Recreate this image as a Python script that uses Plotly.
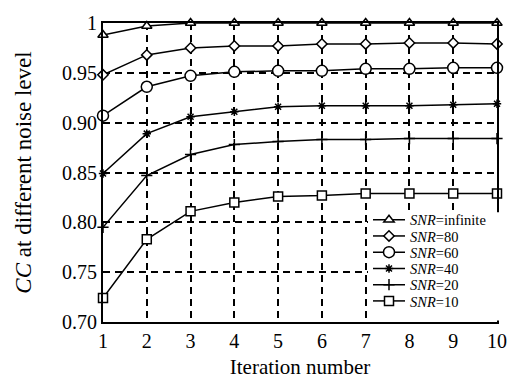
import plotly.graph_objects as go

iterations = [1, 2, 3, 4, 5, 6, 7, 8, 9, 10]
snr_inf = [0.988, 0.997, 1.0, 1.0, 1.0, 1.0, 1.0, 1.0, 1.0, 1.0]
snr_80 = [0.948, 0.968, 0.975, 0.977, 0.977, 0.979, 0.979, 0.980, 0.980, 0.979]
snr_60 = [0.907, 0.936, 0.947, 0.951, 0.952, 0.952, 0.954, 0.954, 0.955, 0.955]
snr_40 = [0.849, 0.889, 0.906, 0.911, 0.916, 0.917, 0.917, 0.917, 0.918, 0.919]
snr_20 = [0.795, 0.847, 0.868, 0.878, 0.881, 0.883, 0.883, 0.884, 0.884, 0.884]
snr_10 = [0.724, 0.783, 0.811, 0.820, 0.826, 0.827, 0.829, 0.829, 0.829, 0.829]

y_tickvals = [0.70, 0.75, 0.80, 0.85, 0.90, 0.95, 1.0]
y_ticktext = ["0.70", "0.75", "0.80", "0.85", "0.90", "0.95", "1"]

series = [
    ("<i>SNR</i>=infinite", snr_inf, "triangle-up", 9, "white"),
    ("<i>SNR</i>=80", snr_80, "diamond", 8, "white"),
    ("<i>SNR</i>=60", snr_60, "circle", 11, "white"),
    ("<i>SNR</i>=40", snr_40, "asterisk-open", 7, "black"),
    ("<i>SNR</i>=20", snr_20, "cross-thin-open", 8, "black"),
    ("<i>SNR</i>=10", snr_10, "square", 9, "white"),
]

font = "Liberation Serif"

# plot-area geometry (pixels) used to place the legend rows
W, H = 519, 387
L, R, T, B = 103, 22, 13, 61
plot_h = H - T - B
plot_w = W - L - R
legend_row_px = [219, 236, 253, 270, 287, 304]

fig = go.Figure()
layout_legends = {}
for i, (name, vals, sym, size, fill) in enumerate(series):
    key = "legend" if i == 0 else f"legend{i+1}"
    fig.add_trace(go.Scatter(
        x=iterations, y=vals, name=name, mode="lines+markers",
        line=dict(color="black", width=1.5),
        marker=dict(symbol=sym, size=size, color=fill,
                    line=dict(color="black", width=1.5)),
        cliponaxis=False,
        legend=key,
    ))
    layout_legends[key] = dict(
        x=(368 - L) / plot_w, xanchor="left",
        y=(H - B - legend_row_px[i]) / plot_h, yanchor="middle",
        bgcolor="rgba(0,0,0,0)", borderwidth=0,
        font=dict(size=14.5, family=font, color="black"),
        itemwidth=32,
    )

fig.update_layout(
    width=W, height=H,
    margin=dict(l=L, r=R, t=T, b=B),
    paper_bgcolor="white", plot_bgcolor="white",
    font=dict(family=font, size=20, color="black"),
    showlegend=True,
    xaxis=dict(range=[1, 10], tickvals=iterations,
               showline=True, linecolor="black", linewidth=2, mirror=True,
               showgrid=True, gridcolor="black", griddash="7px,5px", gridwidth=1.5,
               zeroline=False, ticks="", tickfont=dict(size=20),
               title=dict(text="Iteration number", font=dict(size=21), standoff=8)),
    yaxis=dict(range=[0.70, 1.0], tickvals=y_tickvals, ticktext=y_ticktext,
               showline=True, linecolor="black", linewidth=2, mirror=True,
               showgrid=True, gridcolor="black", griddash="7px,5px", gridwidth=1.5,
               zeroline=False, ticks="", tickfont=dict(size=20),
               title=dict(text="<i>CC</i> at different noise level", font=dict(size=23), standoff=24)),
    shapes=[dict(type="rect", xref="paper", yref="paper", layer="above",
                 x0=(368 - L) / plot_w, x1=(W - R - 1) / plot_w,
                 y0=1.5 / plot_h, y1=(H - B - 211) / plot_h,
                 fillcolor="white", line=dict(width=0))],
    **layout_legends,
)

fig.write_html("out.html")
